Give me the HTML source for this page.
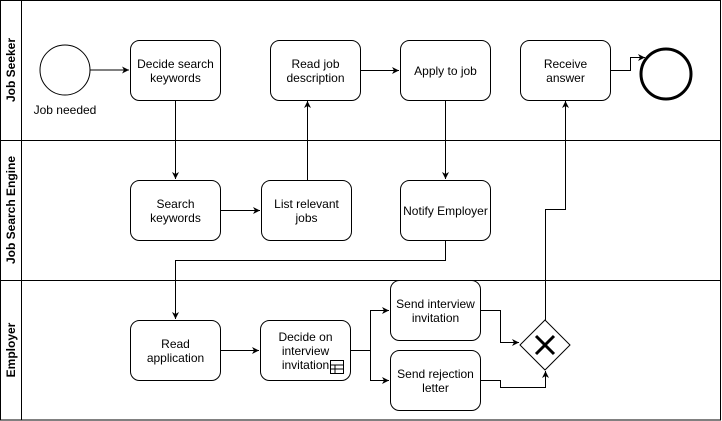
<!DOCTYPE html>
<html><head><style>body{margin:0;background:#fff}svg{display:block}text{font-family:"Liberation Sans",Arial,sans-serif;font-size:12px;fill:#000}</style></head><body>
<svg width="722" height="421" viewBox="0 0 722 421">
<defs><marker id="a" markerWidth="8" markerHeight="8" refX="7" refY="4" orient="auto" markerUnits="userSpaceOnUse"><path d="M0,0.5 L7,4 L0,7.5 L2,4 Z" fill="#000"/></marker></defs>
<g fill="none" stroke="#000" stroke-width="1">
<rect x="0.5" y="0.5" width="720" height="140"/>
<rect x="0.5" y="140.5" width="720" height="140"/>
<rect x="0.5" y="280.5" width="720" height="139.5"/>
<line x1="21.5" y1="0" x2="21.5" y2="420"/>
<circle cx="65" cy="70" r="25"/>
<circle cx="666" cy="74" r="25" stroke-width="3"/>
<rect x="130.5" y="40.5" width="90" height="60" rx="9"/>
<rect x="270.5" y="40.5" width="90" height="60" rx="9"/>
<rect x="400.5" y="40.5" width="90" height="60" rx="9"/>
<rect x="520.5" y="40.5" width="90" height="60" rx="9"/>
<rect x="130.5" y="180.5" width="90" height="60" rx="9"/>
<rect x="261.5" y="180.5" width="90" height="60" rx="9"/>
<rect x="400.5" y="180.5" width="90" height="60" rx="9"/>
<rect x="130.5" y="320.5" width="90" height="60" rx="9"/>
<rect x="260.5" y="320.5" width="90" height="60" rx="9"/>
<rect x="390.5" y="280.5" width="90" height="60" rx="9"/>
<rect x="390.5" y="350.5" width="90" height="60" rx="9"/>
<path d="M545,320 L570,345 L545,370 L520,345 Z"/>
<rect x="330.5" y="360.5" width="13" height="13"/>
<path d="M330.5,365 H343.5 M330.5,369 H343.5 M335,365 V373.5"/>
<path d="M90,70 H129" marker-end="url(#a)"/>
<path d="M175.5,100 V179" marker-end="url(#a)"/>
<path d="M220,210.5 H260" marker-end="url(#a)"/>
<path d="M307.5,180 V101" marker-end="url(#a)"/>
<path d="M360,70.5 H399" marker-end="url(#a)"/>
<path d="M445.5,100 V179" marker-end="url(#a)"/>
<path d="M445.5,240 V260.5 H175.5 V319" marker-end="url(#a)"/>
<path d="M220,350.5 H259" marker-end="url(#a)"/>
<path d="M350,350.5 H370.5 V310.5 H389" marker-end="url(#a)"/>
<path d="M370.5,350 V380.5 H389" marker-end="url(#a)"/>
<path d="M480,310.5 H500.5 V342.5 H519" marker-end="url(#a)"/>
<path d="M480,380.5 H500.5 V387.5 H545.5 V371" marker-end="url(#a)"/>
<path d="M545.5,320 V209.5 H565.5 V101" marker-end="url(#a)"/>
<path d="M610,70.5 H630.5 V57.5 H645" marker-end="url(#a)"/>
</g>
<path d="M536,336 L554,354 M554,336 L536,354" stroke="#000" stroke-width="3"/>
<g font-weight="bold">
<text transform="translate(15,70) rotate(-90)" text-anchor="middle" style="font-weight:bold">Job Seeker</text>
<text transform="translate(15,210) rotate(-90)" text-anchor="middle" style="font-weight:bold">Job Search Engine</text>
<text transform="translate(15,350) rotate(-90)" text-anchor="middle" style="font-weight:bold">Employer</text>
</g>
<g text-anchor="middle">
<text x="65" y="114">Job needed</text>
<text x="175.5" y="68">Decide search</text><text x="175.5" y="82">keywords</text>
<text x="315.5" y="68">Read job</text><text x="315.5" y="82">description</text>
<text x="445.5" y="75">Apply to job</text>
<text x="565.5" y="68">Receive</text><text x="565.5" y="82">answer</text>
<text x="175.5" y="208">Search</text><text x="175.5" y="222">keywords</text>
<text x="306.5" y="208">List relevant</text><text x="306.5" y="222">jobs</text>
<text x="445.5" y="215">Notify Employer</text>
<text x="175.5" y="348">Read</text><text x="175.5" y="362">application</text>
<text x="305.5" y="341">Decide on</text><text x="305.5" y="355">interview</text><text x="305.5" y="369">invitation</text>
<text x="435.5" y="308">Send interview</text><text x="435.5" y="322">invitation</text>
<text x="435.5" y="378">Send rejection</text><text x="435.5" y="392">letter</text>
</g>
</svg>
</body></html>
